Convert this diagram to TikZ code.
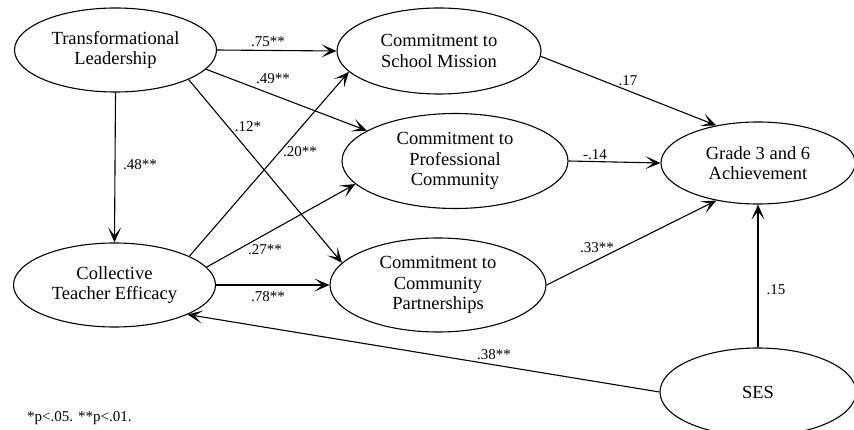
\documentclass[tikz,border=0pt]{standalone}
\usepackage{fontspec}
\setmainfont{Liberation Serif}
\usetikzlibrary{shapes.geometric,arrows.meta}
\begin{document}
\begin{tikzpicture}[x=1pt,y=-1pt,
  var/.style={ellipse,draw,line width=1.1pt,inner sep=0pt,align=center,
    font=\fontsize{18.5}{20.5}\selectfont},
  arr/.style={-{Stealth[length=15pt,width=13pt,inset=8pt]},line width=1.1pt},
  coef/.style={font=\fontsize{15}{17}\selectfont,inner sep=0pt}]
\clip (0,0) rectangle (854,430);
% variables
\node[var,minimum width=202pt,minimum height=84pt] (TL) at (115.5,50) {Transformational\\Leadership};
\node[var,minimum width=204pt,minimum height=86pt] (CSM) at (439,51) {Commitment to\\School Mission};
\node[var,minimum width=226pt,minimum height=95pt] (CPC) at (455,161) {Commitment to\\Professional\\Community};
\node[var,minimum width=194pt,minimum height=82pt] (GA) at (758,163) {Grade 3 and 6\\Achievement};
\node[var,minimum width=202pt,minimum height=84pt] (CTE) at (114.5,285) {Collective\\Teacher Efficacy};
\node[var,minimum width=216pt,minimum height=94pt] (CCP) at (438,285) {Commitment to\\Community\\Partnerships};
\node[var,minimum width=196pt,minimum height=88pt] (SES) at (758,392) {SES};
% paths
\draw[arr] (TL.east) -- (CSM.west);
\draw[arr] (TL.-12) -- (CPC.161);
\draw[arr] (TL.-22) -- (CCP.167);
\draw[arr] (TL.south) -- (CTE.north);
\draw[arr] (CTE.21) -- (CSM.193);
\draw[arr] (CTE.11) -- (CPC.193);
\draw[arr] (CTE.east) -- (CCP.west);
\draw[arr] (CSM.-3) -- (GA.138);
\draw[arr] (CPC.east) -- (GA.west);
\draw[arr] (CCP.east) -- (GA.222);
\draw[arr] (SES.north) -- (GA.south);
\draw[arr] (SES.west) -- (CTE.-22);
% coefficients
\node[coef] (l75) at (268,42) {.75**};
\node[coef] (l49) at (273,79) {.49**};
\node[coef] (l12) at (248,127) {.12*};
\node[coef] (l48) at (140,165) {.48**};
\node[coef] (l20) at (300,152) {.20**};
\node[coef] (l27) at (265,250) {.27**};
\node[coef] (l78) at (268,297) {.78**};
\node[coef] (l17) at (628,81) {.17};
\node[coef] (l14) at (595,155) {-.14};
\node[coef] (l33) at (597,248) {.33**};
\node[coef] (l15) at (776,290) {.15};
\node[coef] (l38) at (494,355) {.38**};
\node[coef,anchor=west] (note) at (27,418) {*p<.05. **p<.01.};
\end{tikzpicture}
\end{document}
